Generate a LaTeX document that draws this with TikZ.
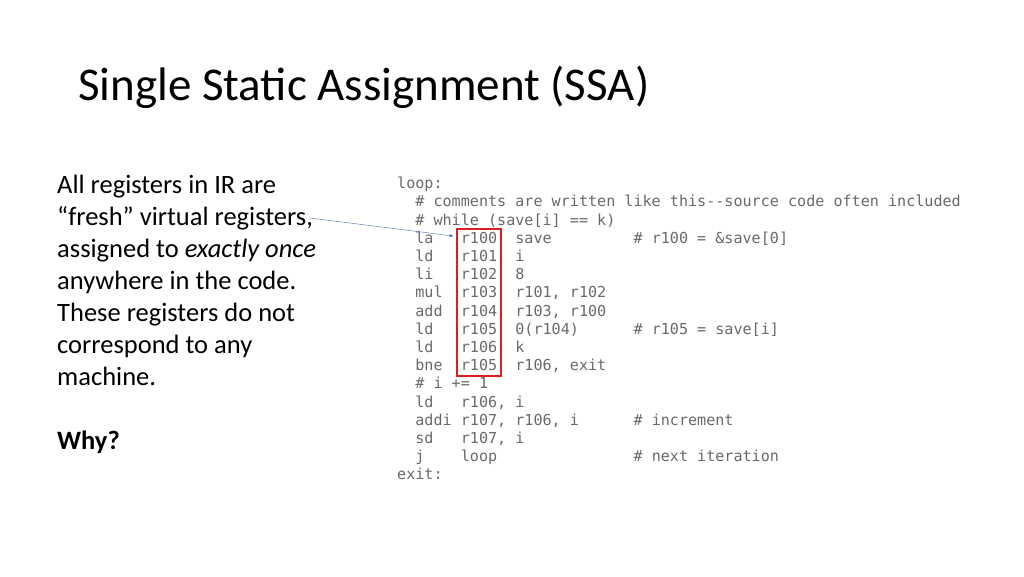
\documentclass[tikz,border=0pt]{standalone}
\usepackage{fontspec}
\setmainfont{Carlito}
\setmonofont{DejaVu Sans Mono}
\usetikzlibrary{arrows,positioning}
\definecolor{codegray}{RGB}{105,105,105}
\definecolor{boxred}{RGB}{220,30,30}
\definecolor{arrowblue}{RGB}{70,110,180}

\begin{document}
\begin{tikzpicture}[x=1pt,y=-1pt,>=stealth',
    body/.style={anchor=north west,inner sep=0pt,align=left,
      font=\fontsize{26.5}{32}\selectfont},
    code/.style={anchor=north west,inner sep=0pt,align=left,text=codegray,
      font=\fontsize{15.1}{18.2}\selectfont\ttfamily}]
  \useasboundingbox (0,0) rectangle (1024,576);
  \node[anchor=base west,inner sep=0pt,font=\fontsize{47}{54}\selectfont]
        (title) at (78,100) {Single Static Assignment (SSA)};
  \node[body] (text) at (57,175) {All registers in IR are\\
        ``fresh'' virtual registers,\\
        assigned to \emph{exactly once}\\
        anywhere in the code.\\
        These registers do not\\
        correspond to any\\
        machine.\\[32pt]
        \textbf{Why?}};
  \node[code] (listing) at (397,177) {loop:\\
~~\# comments are written like this--source code often included\\
~~\# while (save[i] == k)\\
~~la~~~r100~~save~~~~~~~~~\# r100 = \&save[0]\\
~~ld~~~r101~~i\\
~~li~~~r102~~8\\
~~mul~~r103~~r101, r102\\
~~add~~r104~~r103, r100\\
~~ld~~~r105~~0(r104)~~~~~~\# r105 = save[i]\\
~~ld~~~r106~~k\\
~~bne~~r105~~r106, exit\\
~~\# i += 1\\
~~ld~~~r106, i\\
~~addi r107, r106, i~~~~~~\# increment\\
~~sd~~~r107, i\\
~~j~~~~loop~~~~~~~~~~~~~~~\# next iteration\\
exit:};
  \node[draw=boxred,line width=1.8pt,inner sep=0pt,minimum width=44pt,
        minimum height=147pt,anchor=north west] (regs) at (456,228) {};
  \coordinate (tip) at (453,236);
  \coordinate (from) at (310,218);
  \draw[->,arrowblue,thin] (from) -- (tip);
\end{tikzpicture}
\end{document}
